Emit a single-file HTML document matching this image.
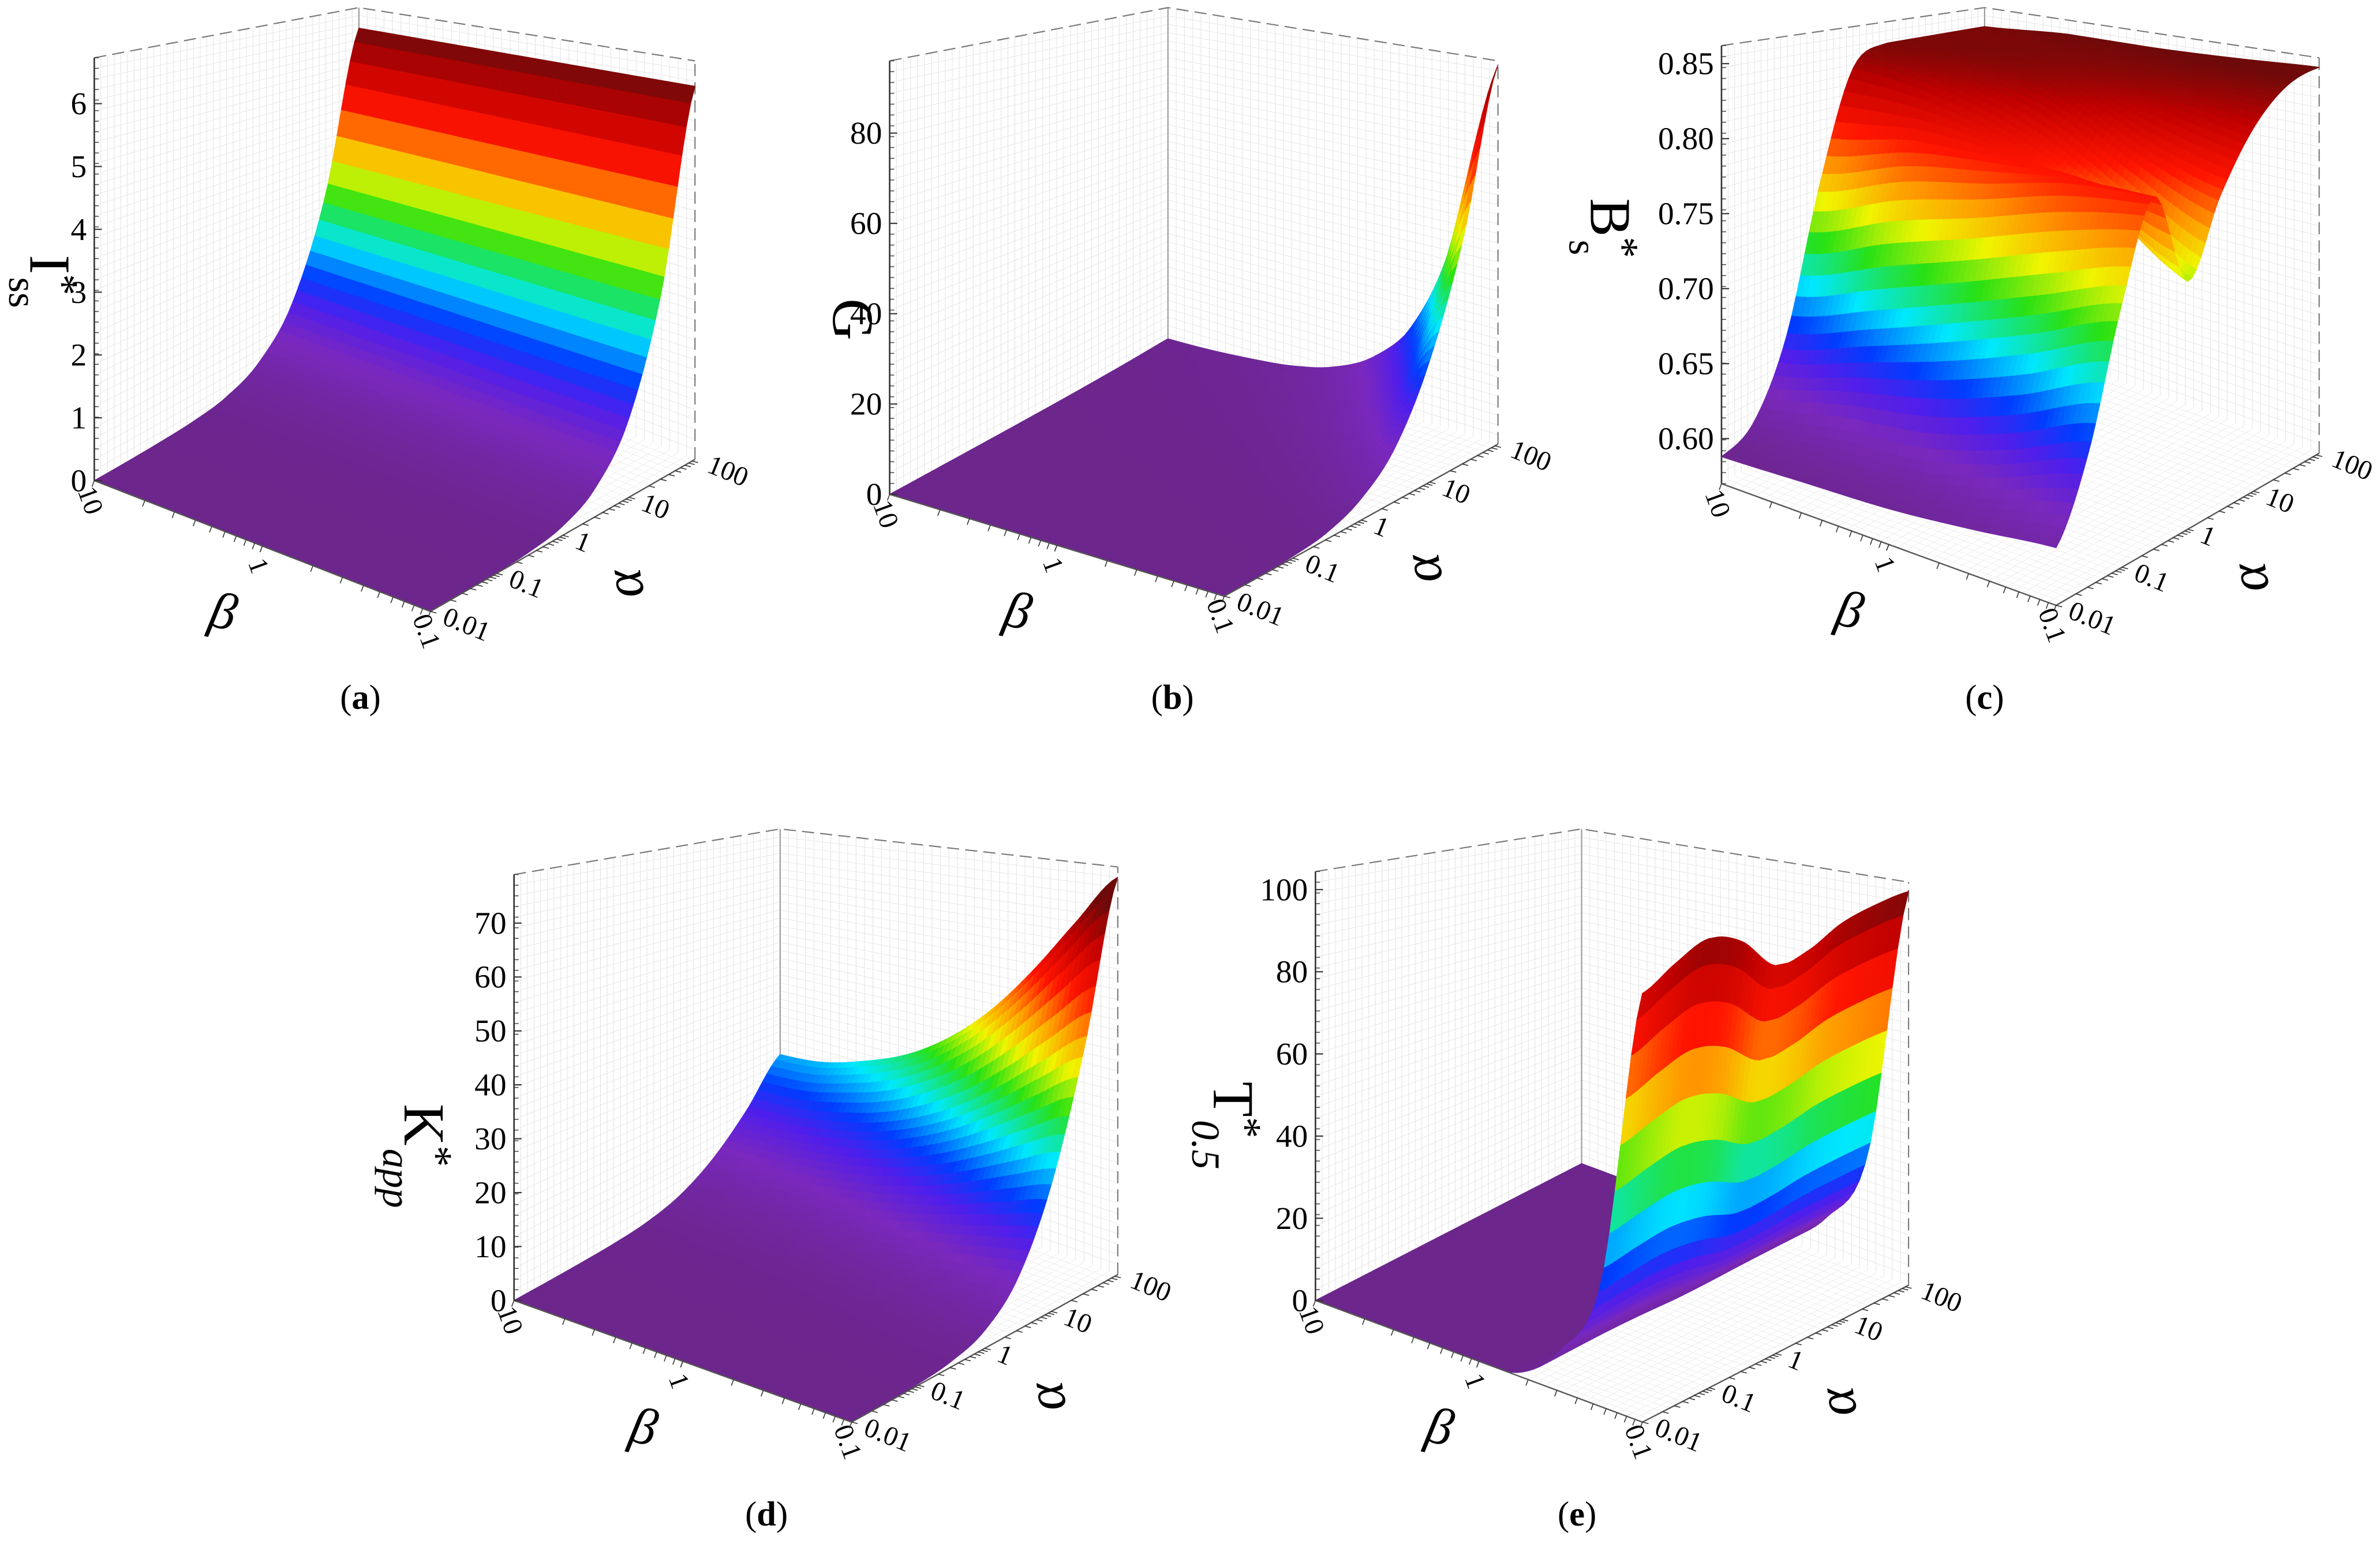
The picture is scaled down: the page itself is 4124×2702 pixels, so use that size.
<!DOCTYPE html>
<html><head><meta charset="utf-8">
<style>
html,body{margin:0;padding:0;background:#fff;}
svg{display:block;}
text{font-family:"Liberation Serif",serif;fill:#000;}
</style></head>
<body>
<svg id="fig" width="4124" height="2702" viewBox="0 0 1565 1025" preserveAspectRatio="none" xmlns="http://www.w3.org/2000/svg">
<rect x="0" y="0" width="1565" height="1025" fill="#fff"/>
</svg>
<script>
// ---- shared tick labels ----
const alphaTickLabels = ["0.01","0.1","1","10","100"];
const betaTickLabels = ["10","1","0.1"];
// ---- panel (a) I*ss : separable profiles (alpha samples log10 -2..2, beta samples 10..0.1) ----
const aZAlpha = [0,0,0.01,0.04,0.14,0.45,1.25,3.1,6.3];
const aZBeta  = [1,1,1,1,1,1,1,1,1];
const aZTicks = [0,1,2,3,4,5,6];
// ---- panel (b) G ----
const bZAlpha = [0,0.001,0.004,0.015,0.05,0.13,0.3,0.58,1];
const bZBeta  = [1,1.5,2.5,4,7,13,25,50,95];
const bZTicks = [0,20,40,60,80];
// ---- panel (c) B*s : full grid rows beta = 10, 3.16, 1, 0.316, 0.1 ----
const cRowBeta10  = [0.588,0.60,0.65,0.75,0.83,0.845,0.845,0.845,0.845];
const cRowBeta3   = [0.590,0.61,0.67,0.77,0.82,0.84,0.845,0.845,0.85];
const cRowBeta1   = [0.592,0.615,0.69,0.78,0.80,0.83,0.84,0.845,0.85];
const cRowBeta03  = [0.597,0.63,0.71,0.79,0.77,0.80,0.83,0.845,0.852];
const cRowBeta01  = [0.603,0.65,0.73,0.79,0.73,0.78,0.82,0.845,0.855];
const cZTicks = [0.60,0.65,0.70,0.75,0.80,0.85];
// ---- panel (d) K*app ----
const dZAlpha = [0,0,0.003,0.012,0.04,0.12,0.3,0.6,1];
const dZBeta  = [24,25,28,32,38,46,56,67,77];
const dZTicks = [0,10,20,30,40,50,60,70];
// ---- panel (e) T*0.5 ----
const eZAlpha = [90,95,99,97,90,92,97,100,102];
const eZBeta  = [0,0,0,0,0,0.01,0.1,0.3,1];
const eZTicks = [0,20,40,60,80,100];

const NS="http://www.w3.org/2000/svg";
const svg=document.getElementById('fig');
function mk(tag,attrs,parent){const e=document.createElementNS(NS,tag);for(const k in attrs)e.setAttribute(k,attrs[k]);(parent||svg).appendChild(e);return e;}

function cr(arr,t){const n=arr.length-1;const x=Math.max(0,Math.min(1,t))*n;let i=Math.min(Math.floor(x),n-1);const f=x-i;
 const p0=arr[Math.max(i-1,0)],p1=arr[i],p2=arr[i+1],p3=arr[Math.min(i+2,n)];
 let r=0.5*((2*p1)+(-p0+p2)*f+(2*p0-5*p1+4*p2-p3)*f*f+(-p0+3*p1-3*p2+p3)*f*f*f);
 const lo=Math.min(p1,p2),hi=Math.max(p1,p2);return Math.max(lo,Math.min(hi,r));}

const cmapStops=[[0,[108,38,140]],[0.12,[122,40,190]],[0.2,[80,30,235]],[0.27,[0,60,255]],[0.37,[0,232,255]],[0.48,[40,225,20]],[0.58,[240,245,0]],[0.67,[255,150,0]],[0.77,[255,20,0]],[0.9,[190,0,0]],[1,[110,10,10]]];
function cmap(t){t=Math.max(0,Math.min(1,t));for(let i=1;i<cmapStops.length;i++){if(t<=cmapStops[i][0]){const a=cmapStops[i-1],b=cmapStops[i];const f=(t-a[0])/(b[0]-a[0]);const c=a[1].map((v,k)=>Math.round(v+(b[1][k]-v)*f));return 'rgb('+c.join(',')+')';}}return 'rgb(110,10,10)';}

const panels=[
 {id:'a',A:[62,316],B:[283,402],C:[457,302],D:[236,216],H:[278,329,262,211],zmin:0,ztop:6.73,cmin:0,cmax:6.3,ticks:aZTicks,fmt:v=>String(v),
  z:(u,v)=>cr(aZAlpha,v)*cr(aZBeta,u),title:['I','*','ss'],titlePos:[20,185],cap:[237,466]},
 {id:'b',A:[585,325],B:[805,392],C:[985,292],D:[768,225],H:[285,317,252,220],zmin:0,ztop:96,cmin:0,cmax:95,ticks:bZTicks,fmt:v=>String(v),
  z:(u,v)=>cr(bZAlpha,v)*cr(bZBeta,u),title:['G','',''],titlePos:[548,210],cap:[771,466]},
 {id:'c',A:[1132,318],B:[1352,398],C:[1525,298],D:[1305,218],H:[288,335,260,213],zmin:0.57,ztop:0.862,cmin:0.585,cmax:0.85,ticks:cZTicks,fmt:v=>v.toFixed(2),
  z:(u,v)=>{const rows=[cRowBeta10,cRowBeta3,cRowBeta1,cRowBeta03,cRowBeta01];return cr(rows.map(r=>cr(r,v)),u);},title:['B','*','s'],titlePos:[1046,150],cap:[1305,466]},
 {id:'d',A:[338,855],B:[560,935],C:[735,838],D:[513,758],H:[280,335,268,213],zmin:0,ztop:79,cmin:0,cmax:72,ticks:dZTicks,fmt:v=>String(v),
  z:(u,v)=>cr(dZAlpha,v)*cr(dZBeta,u),title:['K','*','app'],titlePos:[266,760],cap:[504,1003]},
 {id:'e',A:[865,855],B:[1080,935],C:[1255,845],D:[1040,765],H:[282,327,265,220],zmin:0,ztop:104.4,cmin:0,cmax:102,ticks:eZTicks,fmt:v=>String(v),
  z:(u,v)=>cr(eZAlpha,v)*cr(eZBeta,u),title:['T','*','0.5'],titlePos:[798,740],cap:[1037,1003]}
];

function bil(p,u,v,a,b,c,d){return (1-u)*(1-v)*a+u*(1-v)*b+u*v*c+(1-u)*v*d;}
function floorPt(p,u,v){return [bil(p,u,v,p.A[0],p.B[0],p.C[0],p.D[0]),bil(p,u,v,p.A[1],p.B[1],p.C[1],p.D[1])];}
function hAt(p,u,v){return bil(p,u,v,p.H[0],p.H[1],p.H[2],p.H[3]);}
function proj(p,u,v,z){const f=floorPt(p,u,v);return [f[0],f[1]-(z-p.zmin)/(p.ztop-p.zmin)*hAt(p,u,v)];}
function pts(a){return a.map(q=>q[0].toFixed(2)+','+q[1].toFixed(2)).join(' ');}

panels.forEach(p=>{
 const g=mk('g',{});
 
 
 const top=p.ztop;
 const wall=mk('g',{},g);
 
 
 for(let i=1;i<40;i++){const t=i/40;
  mk('line',{x1:proj(p,0,t,p.zmin)[0],y1:proj(p,0,t,p.zmin)[1],x2:proj(p,0,t,top)[0],y2:proj(p,0,t,top)[1],stroke:'#e4e4e4','stroke-width':0.4},wall);
  mk('line',{x1:proj(p,t,1,p.zmin)[0],y1:proj(p,t,1,p.zmin)[1],x2:proj(p,t,1,top)[0],y2:proj(p,t,1,top)[1],stroke:'#e4e4e4','stroke-width':0.4},wall);
  const zz=p.zmin+(top-p.zmin)*t;
  mk('polyline',{points:pts([proj(p,0,0,zz),proj(p,0,1,zz),proj(p,1,1,zz)]),fill:'none',stroke:'#e8e8e8','stroke-width':0.4},wall);
  mk('polyline',{points:pts([proj(p,t,0,p.zmin),proj(p,t,1,p.zmin)]),fill:'none',stroke:'#eeeeee','stroke-width':0.4},wall);
  mk('polyline',{points:pts([proj(p,0,t,p.zmin),proj(p,1,t,p.zmin)]),fill:'none',stroke:'#eeeeee','stroke-width':0.4},wall);
 }
 const dash={fill:'none',stroke:'#777','stroke-width':0.8,'stroke-dasharray':'8,4'};
 mk('polyline',Object.assign({points:pts([proj(p,0,0,top),proj(p,0,1,top),proj(p,1,1,top)])},dash),g);
 mk('polyline',Object.assign({points:pts([proj(p,1,1,p.zmin),proj(p,1,1,top)])},dash),g);
 mk('polyline',{points:pts([proj(p,0,1,p.zmin),proj(p,0,1,top)]),fill:'none',stroke:'#999','stroke-width':0.8},g);
 const surf=mk('g',{},g);
 
 
 const N=60;const Z=[];
 for(let i=0;i<=N;i++){Z.push([]);for(let j=0;j<=N;j++)Z[i].push(p.z(i/N,j/N));}
 const quads=[];
 for(let i=0;i<N;i++)for(let j=0;j<N;j++)quads.push([i,j,(1-(i+0.5)/N)+(j+0.5)/N]);
 quads.sort((a,b)=>b[2]-a[2]);
 quads.forEach(q=>{const i=q[0],j=q[1];
  const c=[proj(p,i/N,j/N,Z[i][j]),proj(p,(i+1)/N,j/N,Z[i+1][j]),proj(p,(i+1)/N,(j+1)/N,Z[i+1][j+1]),proj(p,i/N,(j+1)/N,Z[i][j+1])];
  const zavg=(Z[i][j]+Z[i+1][j]+Z[i+1][j+1]+Z[i][j+1])/4;
  const col=cmap((zavg-p.cmin)/(p.cmax-p.cmin));
  mk('polygon',{points:pts(c),fill:col,stroke:col,'stroke-width':0.5,'stroke-linejoin':'round'},surf);
 });
 const ax={stroke:'#333','stroke-width':1,fill:'none'};
 const za=mk('polyline',Object.assign({points:pts([proj(p,0,0,p.zmin),proj(p,0,0,top)])},ax),g);
 
 
 const ba=mk('polyline',{points:pts([proj(p,0,0,p.zmin),proj(p,1,0,p.zmin)]),stroke:'#555','stroke-width':0.9,fill:'none'},g);
 
 
 const aa=mk('polyline',{points:pts([proj(p,1,0,p.zmin),proj(p,1,1,p.zmin)]),stroke:'#555','stroke-width':0.9,fill:'none'},g);
 
 
 p.ticks.forEach(t=>{const q=proj(p,0,0,t);
  mk('line',{x1:q[0],y1:q[1],x2:q[0]+5,y2:q[1],stroke:'#333','stroke-width':0.8},g);
  const tx=mk('text',{x:q[0]-5,y:q[1]+7,'font-size':21,'text-anchor':'end'},g);
  tx.textContent=p.fmt(t);
  
  
 });
 for(let k=0;k<=40;k++){const zz=p.zmin+(top-p.zmin)*k/40;const q=proj(p,0,0,zz);mk('line',{x1:q[0],y1:q[1],x2:q[0]+3,y2:q[1],stroke:'#333','stroke-width':0.5},g);}
 betaTickLabels.forEach((lab,k)=>{const u=k/(betaTickLabels.length-1);const q=proj(p,u,0,p.zmin);
  const tx=mk('text',{x:0,y:0,'font-size':18,'text-anchor':'middle',transform:'translate('+(q[0]-8)+','+(q[1]+15)+') rotate(70)'},g);
  tx.textContent=lab;
  
  
 });
 for(let d=0;d<2;d++)for(let m=1;m<=10;m++){const u=(d+(1-Math.log10(m)))/2;if(u<0||u>1)continue;const q=proj(p,1-u,0,p.zmin);
  mk('line',{x1:q[0],y1:q[1],x2:q[0]-1.5,y2:q[1]+4,stroke:'#333','stroke-width':0.6},g);}
 alphaTickLabels.forEach((lab,k)=>{const v=k/(alphaTickLabels.length-1);const q=proj(p,1,v,p.zmin);
  const tx=mk('text',{x:0,y:0,'font-size':18,'text-anchor':'start',transform:'translate('+(q[0]+7)+','+(q[1]+8)+') rotate(22)'},g);
  tx.textContent=lab;
  
  
 });
 for(let d=0;d<4;d++)for(let m=1;m<10;m++){const v=(d+Math.log10(m))/4;const q=proj(p,1,v,p.zmin);
  mk('line',{x1:q[0],y1:q[1],x2:q[0]+4,y2:q[1]+1,stroke:'#333','stroke-width':0.6},g);}
 const bm=proj(p,0.5,0,p.zmin);
 const bt=mk('text',{x:bm[0]-28,y:bm[1]+54,'font-size':34,'font-style':'italic','text-anchor':'middle',transform:'rotate(12 '+(bm[0]-28)+' '+(bm[1]+54)+')'},g);
 bt.textContent='β';
 
 
 const am=proj(p,1,0.5,p.zmin);
 const at=mk('text',{x:am[0]+52,y:am[1]+30,'font-size':36,'font-style':'italic','text-anchor':'middle',transform:'rotate(-100 '+(am[0]+52)+' '+(am[1]+30)+')'},g);
 at.textContent='α';
 
 
 const tp=p.titlePos;
 const zt=mk('text',{x:tp[0],y:tp[1],'font-size':38,'text-anchor':'middle',transform:'rotate(90 '+tp[0]+' '+tp[1]+')'},g);
 
 
 const t1=mk('tspan',{},zt);t1.textContent=p.title[0];
 if(p.title[1]){const t2=mk('tspan',{'font-size':28,dy:-12},zt);t2.textContent=p.title[1];}
 if(p.title[2]){const t3=mk('tspan',{'font-size':26,dx:-12,dy:26,'font-style':p.id==='a'||p.id==='c'?'normal':'italic'},zt);t3.textContent=p.title[2];}
 const cp=mk('text',{x:p.cap[0],y:p.cap[1],'font-size':23,'text-anchor':'middle'},g);
 
 
 const c1=mk('tspan',{},cp);c1.textContent='(';
 const c2=mk('tspan',{'font-weight':'bold'},cp);c2.textContent=p.id;
 const c3=mk('tspan',{},cp);c3.textContent=')';
});
</script>
</body></html>
